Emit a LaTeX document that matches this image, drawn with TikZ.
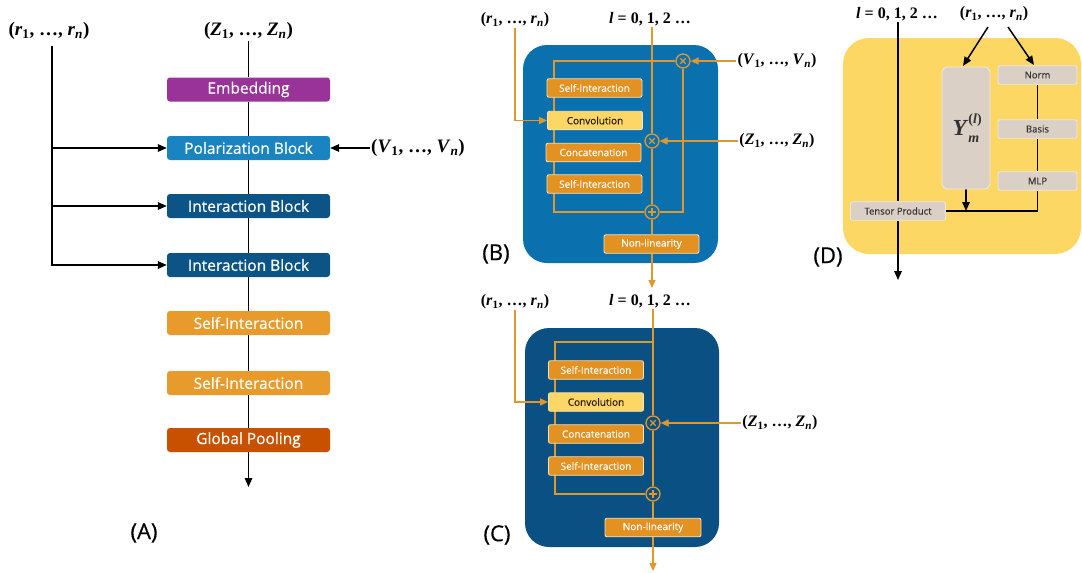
\documentclass[tikz,border=0pt]{standalone}
\usepackage{fontspec}
\setsansfont{Open Sans}
\newfontfamily\boxfont{Open Sans}[FakeBold=0.6]
\newfontfamily\smallboxfont{Open Sans}[FakeBold=0.3]
\newfontfamily\panelfont{Open Sans}[FakeBold=0.5]
\newfontfamily\lblfont{Liberation Serif}
\newcommand\tupl[1]{(\textit{#1}\textsubscript{1}, …, \textit{#1}\textsubscript{\textit{n}})}
\newcommand\lvals{\textit{l} = 0, 1, 2 …}
\usetikzlibrary{arrows.meta}
\pgfdeclarelayer{back}\pgfdeclarelayer{mid}
\pgfsetlayers{back,mid,main}
\definecolor{cEmb}{HTML}{993399}
\definecolor{cPol}{HTML}{1A84C1}
\definecolor{cInt}{HTML}{0D5486}
\definecolor{cSI}{HTML}{E89B2A}
\definecolor{cGP}{HTML}{C85100}
\definecolor{cB}{HTML}{0A71AE}
\definecolor{cC}{HTML}{0A5082}
\definecolor{cOr}{HTML}{E0982C}
\definecolor{cBox}{HTML}{E39120}
\definecolor{cBoxEdge}{HTML}{F6E2BC}
\definecolor{cConv}{HTML}{FDD766}
\definecolor{cD}{HTML}{FDD763}
\definecolor{cGray}{HTML}{DAD0C6}
\definecolor{cGrayEdge}{HTML}{EEE8E0}
\begin{document}
\begin{tikzpicture}[x=1pt,y=-1pt,
  blk/.style={rectangle, rounded corners=3pt, minimum width=163pt, minimum height=24pt, inner sep=0pt, text=white, font=\boxfont\fontsize{15.5}{18}\selectfont},
  sbox/.style={rectangle, rounded corners=2pt, minimum width=95pt, minimum height=18.5pt, inner sep=0pt, fill=cBox, draw=cBoxEdge, line width=0.9pt, text=white, font=\smallboxfont\fontsize{10}{12}\selectfont},
  convbox/.style={sbox, fill=cConv, text={black!80!brown}},
  gbox/.style={rectangle, rounded corners=2pt, minimum height=18.5pt, inner sep=0pt, fill=cGray, draw=cGrayEdge, line width=0.9pt, text=black!80, font=\smallboxfont\fontsize{9.5}{11}\selectfont},
  mlabA/.style={font=\lblfont\bfseries\fontsize{19}{22}\selectfont, inner sep=1pt},
  mlabB/.style={font=\lblfont\bfseries\fontsize{16}{19}\selectfont, inner sep=1pt},
  panel/.style={font=\panelfont\fontsize{22}{26}\selectfont, inner sep=0pt},
  bline/.style={line width=1.5pt, black},
  barr/.style={bline, -{Triangle[length=9pt,width=7.5pt]}},
  oline/.style={line width=1.3pt, cOr},
  oarr/.style={oline, -{Triangle[length=8pt,width=7pt]}},
  opnode/.style={circle, draw=cOr, line width=1.3pt, minimum size=14pt, inner sep=0pt},
  timesop/.style={opnode, path picture={
      \draw[cOr, line width=1.3pt] ([shift={(-2.7pt,-2.7pt)}]path picture bounding box.center) -- ([shift={(2.7pt,2.7pt)}]path picture bounding box.center)
        ([shift={(-2.7pt,2.7pt)}]path picture bounding box.center) -- ([shift={(2.7pt,-2.7pt)}]path picture bounding box.center);}},
  plusop/.style={opnode, path picture={
      \draw[cOr, line width=1.3pt] ([shift={(-3.8pt,0pt)}]path picture bounding box.center) -- ([shift={(3.8pt,0pt)}]path picture bounding box.center)
        ([shift={(0pt,-3.8pt)}]path picture bounding box.center) -- ([shift={(0pt,3.8pt)}]path picture bounding box.center);}}
]
\useasboundingbox (0,0) rectangle (1082,573);

% ================= Panel A =================
\node[mlabA] (rA) at (49,31) {\tupl{r}};
\node[mlabA] (zA) at (248.5,31) {\tupl{Z}};
\node[mlabA] (vA) at (418,148) {\tupl{V}};
\node[blk, fill=cEmb] (emb) at (248.5,89.5) {Embedding};
\node[blk, fill=cPol] (pol) at (248.5,148) {Polarization Block};
\node[blk, fill=cInt] (int1) at (248.5,206) {Interaction Block};
\node[blk, fill=cInt] (int2) at (248.5,265) {Interaction Block};
\node[blk, fill=cSI] (si1) at (248.5,323) {Self-Interaction};
\node[blk, fill=cSI] (si2) at (248.5,383) {Self-Interaction};
\node[blk, fill=cGP] (gp) at (248.5,440) {Global Pooling};
\coordinate (outA) at (248.5,487);
\coordinate (rAt) at (52,46);
\node[panel] (labA) at (144,533) {(A)};

\draw[bline] (zA) -- (emb);
\draw[bline] (emb) -- (pol);
\draw[bline] (pol) -- (int1);
\draw[bline] (int1) -- (int2);
\draw[bline] (int2) -- (si1);
\draw[bline] (si1) -- (si2);
\draw[bline] (si2) -- (gp);
\draw[barr] (gp) -- (outA);
\draw[barr] (rAt) |- (int2.west);
\draw[barr] (rAt |- pol.west) -- (pol.west);
\draw[barr] (rAt |- int1.west) -- (int1.west);
\draw[barr] (vA) -- (pol);

% ================= Backgrounds =================
\begin{pgfonlayer}{back}
\node[fill=cB, rounded corners=24pt, minimum width=195pt, minimum height=218pt, inner sep=0pt] (Bbg) at (620.5,154) {};
\node[fill=cC, rounded corners=24pt, minimum width=194pt, minimum height=219pt, inner sep=0pt] (Cbg) at (622,437.5) {};
\node[fill=cD, rounded corners=26pt, minimum width=238pt, minimum height=216pt, inner sep=0pt] (Dbg) at (962,146) {};
\end{pgfonlayer}

% ================= Panel B =================
\node[mlabB] (rB) at (515,20) {\tupl{r}};
\node[mlabB] (lB) at (650,19) {\lvals};
\node[mlabB] (vB) at (777,61) {\tupl{V}};
\node[mlabB] (zB) at (777,141) {\tupl{Z}};
\node[sbox] (siB1) at (594.5,88) {Self-Interaction};
\node[convbox] (convB) at (595,120.5) {Convolution};
\node[sbox] (catB) at (593.5,152.5) {Concatenation};
\node[sbox] (siB2) at (594.5,184) {Self-Interaction};
\node[sbox] (nlB) at (651.5,244) {Non-linearity};
\node[timesop] (otB1) at (683,61) {};
\node[timesop] (otB2) at (652,141) {};
\node[plusop] (plB) at (652,212) {};
\coordinate (loopB1) at (554,61);
\coordinate (loopB2) at (554,212);
\coordinate (outB) at (652,288);
\node[panel] (labB) at (496,254) {(B)};

\begin{pgfonlayer}{mid}
\draw[oline] (lB.south -| otB2) -- (otB2);
\draw[oline] (otB2) -- (plB);
\draw[oline] (plB) -- (plB |- nlB.north);
\draw[oarr] (plB |- nlB.south) -- (outB);
\draw[oline] (otB1.west) -- (loopB1) -- (loopB2) -- (plB.west);
\draw[oline] (otB1.south) |- (plB.east);
\draw[oarr] (vB) -- (otB1);
\draw[oarr] (zB) -- (otB2);
\draw[oarr] (rB.south) |- (convB.west);
\end{pgfonlayer}

% ================= Panel C =================
\node[mlabB] (rC) at (515,302) {\tupl{r}};
\node[mlabB] (lC) at (650,301) {\lvals};
\node[mlabB] (zC) at (780,423) {\tupl{Z}};
\node[sbox] (siC1) at (596,370) {Self-Interaction};
\node[convbox] (convC) at (596,402) {Convolution};
\node[sbox] (catC) at (596,434) {Concatenation};
\node[sbox] (siC2) at (596,466) {Self-Interaction};
\node[sbox, minimum width=96pt] (nlC) at (653,527.5) {Non-linearity};
\node[timesop] (otC) at (653,423) {};
\node[plusop] (plC) at (653,494) {};
\coordinate (splitC) at (653,342);
\coordinate (loopC1) at (555,342);
\coordinate (loopC2) at (555,494);
\coordinate (outC) at (653,571);
\node[panel] (labC) at (497,535) {(C)};

\begin{pgfonlayer}{mid}
\draw[oline] (lC.south -| otC) -- (otC);
\draw[oline] (otC) -- (plC);
\draw[oline] (plC) -- (nlC);
\draw[oarr] (nlC) -- (outC);
\draw[oline] (splitC) -- (loopC1) -- (loopC2) -- (plC.west);
\draw[oarr] (zC) -- (otC);
\draw[oarr] (rC.south) |- (convC.west);
\end{pgfonlayer}

% ================= Panel D =================
\node[mlabB] (lD) at (897,14) {\lvals};
\node[mlabB] (rD) at (994,14) {\tupl{r}};
\node[gbox, rounded corners=6pt, minimum width=48pt, minimum height=122pt, font=\lblfont\bfseries\fontsize{23}{26}\selectfont] (yD) at (966,128) {\textit{Y}\rlap{\raisebox{0.5em}{\fontsize{14}{14}\selectfont(\textit{l})}}\raisebox{-0.3em}{\fontsize{14}{14}\selectfont\textit{m}}};
\node[gbox, minimum width=79pt] (normD) at (1037.5,75) {Norm};
\node[gbox, minimum width=79pt] (basD) at (1037.5,129) {Basis};
\node[gbox, minimum width=79pt] (mlpD) at (1037.5,181) {MLP};
\node[gbox, minimum width=95pt] (tpD) at (898,211) {Tensor Product};
\coordinate (outD) at (898,280);
\coordinate (rD1) at (988,27);
\coordinate (rD2) at (1008,27);
\coordinate (yDin) at (963,66);
\coordinate (normin) at (1034,65);
\node[panel] (labD) at (828,257) {(D)};

\begin{pgfonlayer}{mid}
\draw[bline] (lD.south -| tpD) -- (tpD);
\draw[barr] (tpD) -- (outD);
\draw[barr] (rD1) -- (yDin);
\draw[barr] (rD2) -- (normin);
\draw[bline] (normD) -- (basD);
\draw[bline] (basD) -- (mlpD);
\draw[bline] (mlpD.south) |- (tpD.east);
\draw[barr] (yD.south) -- (yD.south |- tpD.east);
\end{pgfonlayer}
\end{tikzpicture}
\end{document}
